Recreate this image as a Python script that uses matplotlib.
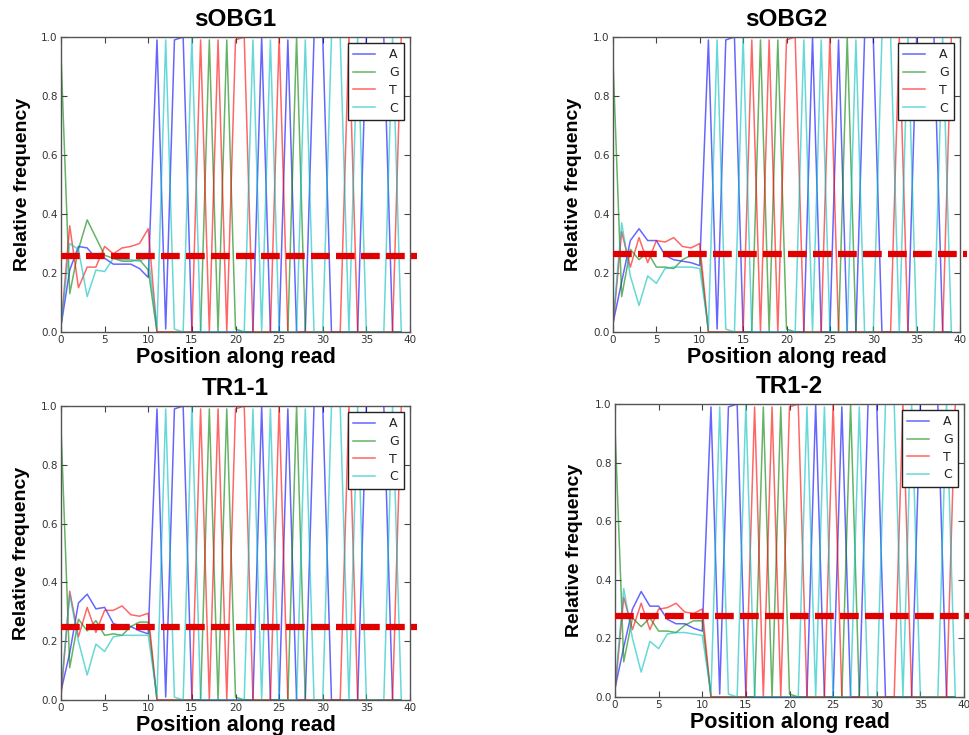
import matplotlib
matplotlib.use("Agg")
import matplotlib.pyplot as plt
import numpy as np

W, H = 969, 735

# ---- data ----
positions = list(range(40))
bases = ["A", "G", "T", "C"]
titles = ["sOBG1", "sOBG2", "TR1-1", "TR1-2"]
baseline = [0.258, 0.266, 0.248, 0.275]

# first 11 positions (0..10) per sample
A_head = [
    [0.02, 0.21, 0.29, 0.285, 0.25, 0.25, 0.23, 0.23, 0.23, 0.215, 0.185],
    [0.03, 0.17, 0.31, 0.35, 0.31, 0.31, 0.26, 0.245, 0.24, 0.235, 0.225],
    [0.03, 0.16, 0.33, 0.36, 0.31, 0.315, 0.26, 0.25, 0.25, 0.235, 0.225],
    [0.03, 0.17, 0.30, 0.36, 0.31, 0.31, 0.265, 0.25, 0.25, 0.235, 0.225],
]
G_head = [
    [0.94, 0.13, 0.28, 0.38, 0.32, 0.26, 0.25, 0.24, 0.24, 0.245, 0.21],
    [0.92, 0.12, 0.28, 0.245, 0.27, 0.22, 0.22, 0.215, 0.245, 0.26, 0.26],
    [0.93, 0.11, 0.275, 0.235, 0.27, 0.22, 0.225, 0.22, 0.25, 0.265, 0.265],
    [0.92, 0.12, 0.27, 0.24, 0.27, 0.225, 0.225, 0.22, 0.245, 0.26, 0.26],
]
T_head = [
    [0.02, 0.36, 0.15, 0.22, 0.22, 0.29, 0.265, 0.285, 0.29, 0.30, 0.35],
    [0.02, 0.34, 0.22, 0.32, 0.235, 0.31, 0.305, 0.32, 0.29, 0.285, 0.30],
    [0.01, 0.37, 0.215, 0.315, 0.23, 0.305, 0.305, 0.32, 0.29, 0.285, 0.295],
    [0.02, 0.34, 0.23, 0.32, 0.23, 0.30, 0.305, 0.32, 0.29, 0.285, 0.30],
]
C_head = [
    [0.02, 0.30, 0.28, 0.12, 0.21, 0.205, 0.25, 0.245, 0.245, 0.24, 0.255],
    [0.03, 0.37, 0.19, 0.09, 0.19, 0.165, 0.215, 0.22, 0.22, 0.22, 0.215],
    [0.03, 0.36, 0.20, 0.085, 0.19, 0.165, 0.215, 0.22, 0.22, 0.22, 0.22],
    [0.03, 0.37, 0.20, 0.085, 0.19, 0.165, 0.215, 0.22, 0.22, 0.215, 0.21],
]

# positions 11..39 (shared by all samples)
A_tail = [0.99, 0.01, 0.99, 1.0, 0, 0, 0, 0, 0, 0, 0, 0, 1.0, 0, 0, 0.99, 0, 0,
          1.0, 1.0, 0, 0, 0, 0, 1.0, 1.0, 1.0, 0, 0]
G_tail = [0, 0, 0, 0, 0, 0, 0.99, 0, 0.99, 0.01, 0, 0, 0, 0, 0, 0, 1.0, 0, 0, 0,
          0, 0, 0, 0, 0, 0, 0, 0, 0]
T_tail = [0, 0, 0, 0, 0, 0.99, 0, 0.99, 0, 0.99, 1.0, 0, 0, 0, 1.0, 0, 0, 0, 0,
          0, 0, 0, 1.0, 0, 0, 0, 0, 0, 1.0]
C_tail = [0.01, 0.99, 0.01, 0, 1.0, 0, 0, 0, 0, 0, 0, 0.99, 0, 0.99, 0, 0, 0,
          0.99, 0, 0, 1.0, 1.0, 0, 1.0, 0, 0, 0, 1.0, 0]

colors = {"A": (0, 0, 1), "G": (0, 0.5, 0), "T": (1, 0, 0), "C": (0, 0.75, 0.75)}

# axes boxes in pixels: left, top, right, bottom
boxes = [(61, 37, 410, 332), (613, 37, 960, 332),
         (61, 406, 410, 700), (615, 404, 964, 697)]
ylab_x = [-0.086, -0.089, -0.089, -0.092]

fig = plt.figure(figsize=(W / 100, H / 100), dpi=100)
heads = {"A": A_head, "G": G_head, "T": T_head, "C": C_head}
tails = {"A": A_tail, "G": G_tail, "T": T_tail, "C": C_tail}

for i, (l, t, r, b) in enumerate(boxes):
    ax = fig.add_axes([l / W, 1 - b / H, (r - l) / W, (b - t) / H])
    for base in bases:
        y = heads[base][i] + tails[base]
        ax.plot(positions, y, color=colors[base], alpha=0.6, lw=1.1, label=base)
    ax.axhline(baseline[i], xmin=0, xmax=1.02, color="#e00000", lw=4.5,
               dashes=(3.0, 1.0), clip_on=False, zorder=5)
    ax.set_xlim(0, 40)
    ax.set_ylim(0, 1)
    ax.set_xticks(range(0, 41, 5))
    ax.set_yticks(np.arange(0, 1.01, 0.2))
    ax.set_yticklabels([f"{v:.1f}" for v in np.arange(0, 1.01, 0.2)])
    ax.tick_params(direction="in", top=True, right=True, length=4, width=0.8,
                   labelsize=7.5, labelcolor="#333333", color="#444444", pad=2.5)
    for s in ax.spines.values():
        s.set_color("#555555")
        s.set_linewidth(1.0)
    ax.set_title(titles[i], fontsize=17.5, fontweight="bold",
                 family="Liberation Sans", pad=8)
    ax.set_xlabel("Position along read", fontsize=15.5, fontweight="bold",
                  family="Liberation Sans")
    ax.xaxis.set_label_coords(0.5, -0.05)
    ax.set_ylabel("Relative frequency", fontsize=14, fontweight="bold",
                  family="Liberation Sans")
    ax.yaxis.set_label_coords(ylab_x[i], 0.5)
    leg = ax.legend(loc="upper right", fontsize=9, handlelength=1.8,
                    handletextpad=1.1, borderpad=0.4, labelspacing=0.38,
                    fancybox=False, framealpha=1, borderaxespad=0.5)
    leg.get_frame().set_edgecolor("#222222")
    leg.get_frame().set_linewidth(1.0)
    for txt in leg.get_texts():
        txt.set_color("#222222")

fig.savefig("out.png", dpi=100)
